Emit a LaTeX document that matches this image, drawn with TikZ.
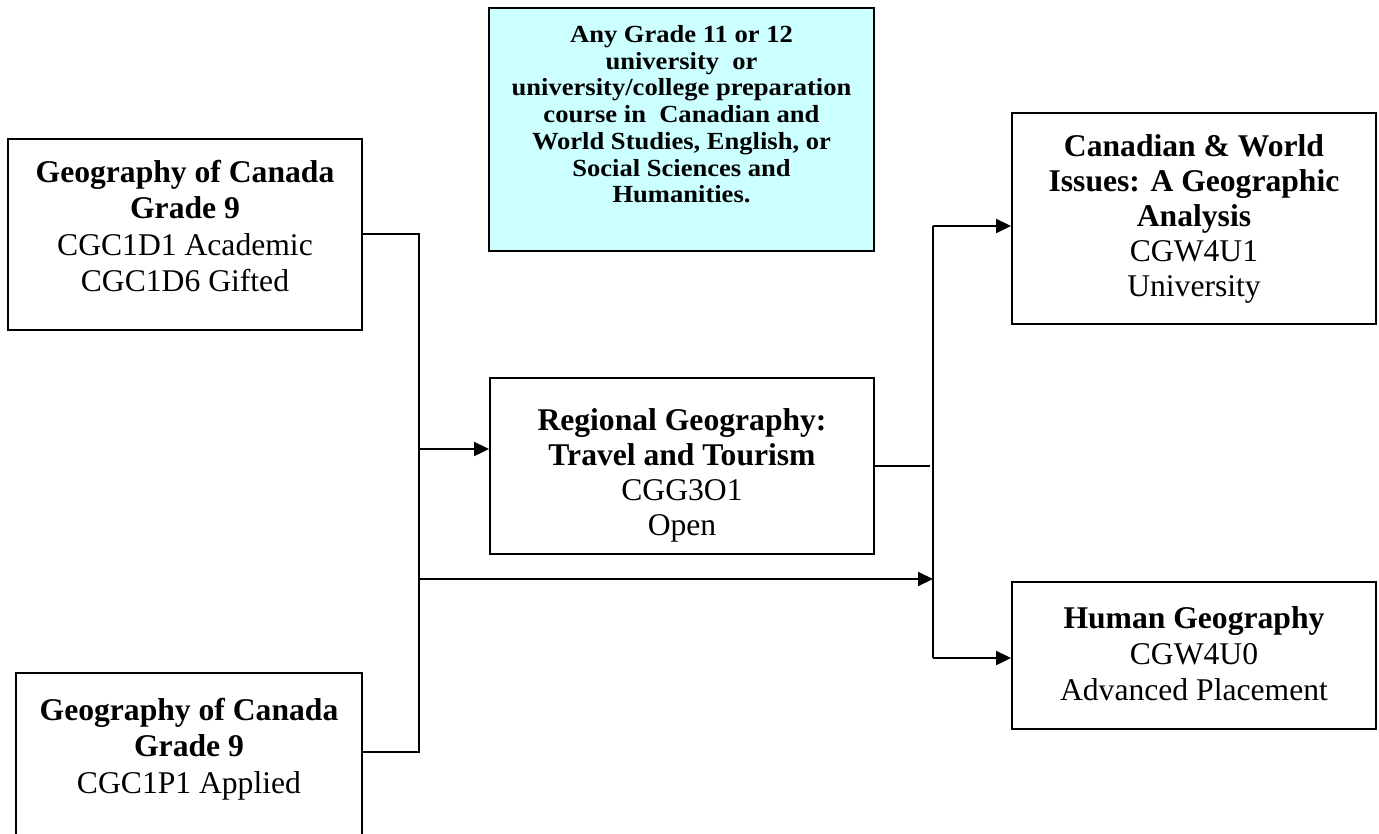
\documentclass[tikz,border=0pt]{standalone}
\usepackage{fontspec}
\setmainfont{Liberation Serif}
\newfontfamily\prqfamily[FakeStretch=1.08]{Liberation Serif}
\usetikzlibrary{arrows.meta,positioning}
\definecolor{prereqcyan}{RGB}{204,255,255}
\newcommand{\crsfont}{\fontsize{18}{20.6}\selectfont}
\newcommand{\prqfont}{\prqfamily\fontsize{14}{15.2}\selectfont}
\tikzset{
  crsbox/.style={draw, line width=1.1pt, inner sep=0pt},
  crstxt/.style={align=center, inner sep=0pt, font=\crsfont},
  link/.style={line width=1.1pt},
  arr/.style={line width=1.1pt, -{Triangle[length=0.3cm,width=0.28cm]}}
}

\begin{document}
\begin{tikzpicture}[x=0.02cm, y=-0.02cm]
  \useasboundingbox (0,0) rectangle (1379,833);
  \node[crsbox, fill=prereqcyan, minimum width=7.7cm, minimum height=4.86cm] (prq) at (681.5,129.5) {};
  \node[crsbox, minimum width=7.08cm, minimum height=3.82cm] (cgc1d) at (185,234.5) {};
  \node[crsbox, minimum width=6.92cm, minimum height=3.54cm] (cgc1p) at (189,761.5) {};
  \node[crsbox, minimum width=7.68cm, minimum height=3.52cm] (cgg3o) at (682,466) {};
  \node[crsbox, minimum width=7.28cm, minimum height=4.22cm] (cgw4u1) at (1194,218.5) {};
  \node[crsbox, minimum width=7.28cm, minimum height=2.94cm] (cgw4u0) at (1194,655.5) {};
  \node[crstxt, font=\prqfont\bfseries, below=0.36cm of prq.north] (prqt) {Any Grade 11 or 12\\university~ or\\university/college preparation\\course in~ Canadian and\\World Studies, English, or\\Social Sciences and\\Humanities.};
  \node[crstxt, below=0.44cm of cgc1d.north] (cgc1dt) {\textbf{Geography of Canada}\\\textbf{Grade 9}\\CGC1D1 Academic\\CGC1D6 Gifted};
  \node[crstxt, below=0.52cm of cgc1p.north] (cgc1pt) {\textbf{Geography of Canada}\\\textbf{Grade 9}\\CGC1P1 Applied};
  \node[crstxt, font=\fontsize{18}{20}\selectfont, below=0.62cm of cgg3o.north] (cgg3ot) {\textbf{Regional Geography:}\\\textbf{Travel and Tourism}\\CGG3O1\\Open};
  \node[crstxt, font=\fontsize{18}{20}\selectfont, below=0.44cm of cgw4u1.north] (cgw4u1t) {\textbf{Canadian \& World}\\\textbf{Issues: A Geographic}\\\textbf{Analysis}\\CGW4U1\\University};
  \node[crstxt, below=0.5cm of cgw4u0.north] (cgw4u0t) {\textbf{Human Geography}\\CGW4U0\\Advanced Placement};
  \coordinate (ja) at (419,234);
  \coordinate (jb) at (419,752);
  \coordinate (jc) at (419,449);
  \coordinate (jd) at (419,579);
  \coordinate (kt) at (933,226);
  \coordinate (kb) at (933,658);
  \coordinate (km) at (933,579);
  \coordinate (kr) at (930,466);
  \draw[link] (cgc1d.east |- ja) -- (ja) -- (jb) -- (cgc1p.east |- jb);
  \draw[arr] (jc) -- (cgg3o.west |- jc);
  \draw[arr] (jd) -- (km);
  \draw[link] (cgg3o.east) -- (kr);
  \draw[link] (kt) -- (kb);
  \draw[arr] (kt) -- (cgw4u1.west |- kt);
  \draw[arr] (kb) -- (cgw4u0.west |- kb);
\end{tikzpicture}
\end{document}
